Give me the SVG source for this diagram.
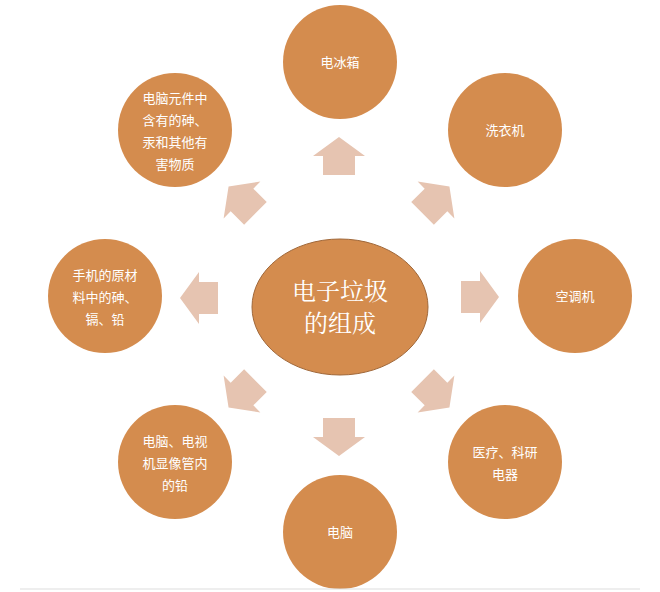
<svg xmlns="http://www.w3.org/2000/svg" width="660" height="592" viewBox="0 0 660 592">
<style>
.c{fill:#d48c4e}
.t{fill:#fff;font-family:"Noto Sans CJK SC","Noto Sans",sans-serif;font-size:13px;text-anchor:middle}
.a{fill:#e6c4b1}
.m{fill:#fff;font-family:"Noto Serif CJK SC","Noto Sans CJK SC",serif;font-size:24px;text-anchor:middle}
</style>
<defs><path id="ar" d="M0,-19 L26,0 L16,0 L16,19 L-16,19 L-16,0 L-26,0 Z"/></defs>
<rect width="660" height="592" fill="#fff"/>
<g id="connectors">
<use href="#ar" class="a" transform="translate(339,156)"/>
<use href="#ar" class="a" transform="translate(436,200) rotate(45)"/>
<use href="#ar" class="a" transform="translate(480,297) rotate(90)"/>
<use href="#ar" class="a" transform="translate(436,394) rotate(135)"/>
<use href="#ar" class="a" transform="translate(339,437) rotate(180)"/>
<use href="#ar" class="a" transform="translate(242,394) rotate(225)"/>
<use href="#ar" class="a" transform="translate(199,298) rotate(270)"/>
<use href="#ar" class="a" transform="translate(242,200) rotate(315)"/>
</g>
<g id="center"><ellipse cx="340" cy="307" rx="88" ry="68" class="c" stroke="#a0683a" stroke-width="1"/>
<text class="m" x="340" y="300">电子垃圾</text>
<text class="m" x="340" y="332">的组成</text></g>
<g id="n1"><circle cx="340" cy="62" r="57" class="c"/><text class="t" x="340" y="67">电冰箱</text></g>
<g id="n2"><circle cx="505" cy="130" r="57" class="c"/><text class="t" x="505" y="135">洗衣机</text></g>
<g id="n3"><circle cx="575" cy="296" r="57" class="c"/><text class="t" x="575" y="301">空调机</text></g>
<g id="n4"><circle cx="505" cy="462" r="57" class="c"/><text class="t" x="505" y="457">医疗、科研</text><text class="t" x="505" y="479">电器</text></g>
<g id="n5"><circle cx="340" cy="532" r="57" class="c"/><text class="t" x="340" y="537">电脑</text></g>
<g id="n6"><circle cx="175" cy="462" r="57" class="c"/><text class="t" x="175" y="446">电脑、电视</text><text class="t" x="175" y="468">机显像管内</text><text class="t" x="175" y="490">的铅</text></g>
<g id="n7"><circle cx="105" cy="296" r="57" class="c"/><text class="t" x="105" y="280">手机的原材</text><text class="t" x="105" y="302">料中的砷、</text><text class="t" x="105" y="324">镉、铅</text></g>
<g id="n8"><circle cx="175" cy="130" r="57" class="c"/><text class="t" x="175" y="103">电脑元件中</text><text class="t" x="175" y="125">含有的砷、</text><text class="t" x="175" y="147">汞和其他有</text><text class="t" x="175" y="169">害物质</text></g>
<line x1="20" y1="589" x2="640" y2="589" stroke="#ddd"/>
</svg>
